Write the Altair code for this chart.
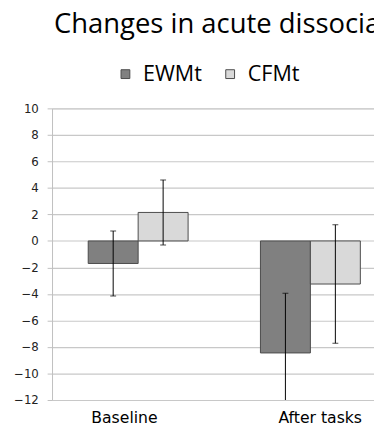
import altair as alt
import pandas as pd

phases = ["Baseline", "After tasks"]
groups = ["EWMt", "CFMt"]
ewmt_mean = [-1.7, -8.45]
ewmt_err = [2.45, 4.5]
cfmt_mean = [2.15, -3.25]
cfmt_err = [2.45, 4.47]
y_ticks = [10, 8, 6, 4, 2, 0, -2, -4, -6, -8, -10, -12]
colors = ["#808080", "#d9d9d9"]
title_text = "Changes in acute dissociation"

rows = []
for i, p in enumerate(phases):
    rows.append({"phase": p, "group": "EWMt", "mean": ewmt_mean[i],
                 "lo": ewmt_mean[i] - ewmt_err[i], "hi": ewmt_mean[i] + ewmt_err[i]})
    rows.append({"phase": p, "group": "CFMt", "mean": cfmt_mean[i],
                 "lo": cfmt_mean[i] - cfmt_err[i], "hi": cfmt_mean[i] + cfmt_err[i]})
df = pd.DataFrame(rows)

xscale = alt.Scale(domain=phases, range=[0, 352], paddingInner=0.42, paddingOuter=0.21)
xoff = alt.XOffset("group:N", scale=alt.Scale(domain=groups, paddingInner=0, paddingOuter=0))
yscale = alt.Scale(domain=[-12, 10], nice=False, zero=False)

x_axis = alt.Axis(
    title=None, domain=False, ticks=False, grid=False,
    labelFont="DejaVu Sans", labelFontSize=16, labelColor="#000000",
    labelPadding=10, labelAngle=0,
    labelOffset={"condition": {"test": "datum.label == 'Baseline'", "value": -14}, "value": 10},
)
y_axis = alt.Axis(
    title=None, values=y_ticks, grid=True, gridColor="#c8c8c8", gridWidth=1.2,
    domainColor="#bfbfbf", tickColor="#bfbfbf", tickSize=5, labelOverlap=False,
    labelFont="DejaVu Sans", labelFontSize=12, labelColor="#222222", labelPadding=9,
)

base = alt.Chart(df)
X = alt.X("phase:N", scale=xscale, axis=x_axis, sort=phases)

bars = base.mark_bar(stroke="#4a4a4a", strokeWidth=1, clip=True).encode(
    x=X,
    xOffset=xoff,
    y=alt.Y("mean:Q", scale=yscale, axis=y_axis),
    y2=alt.datum(0),
    color=alt.Color("group:N", scale=alt.Scale(domain=groups, range=colors),
                    legend=alt.Legend(
                        title=None, orient="none", legendX=64, legendY=-46,
                        direction="horizontal", symbolType="square", symbolSize=81,
                        symbolStrokeColor="#4a4a4a", symbolStrokeWidth=1,
                        labelFont="Open Sans", labelFontSize=22, labelColor="#000000",
                        labelOffset=7, columnPadding=17, padding=0)),
)

rules = base.mark_rule(color="#000000", strokeWidth=1, clip=True).encode(
    x=X,
    xOffset=xoff,
    y=alt.Y("lo:Q", scale=yscale, axis=y_axis),
    y2="hi:Q",
)
cap_lo = base.mark_tick(color="#000000", size=6, thickness=1, clip=True).encode(
    x=X,
    xOffset=xoff,
    y=alt.Y("lo:Q", scale=yscale, axis=y_axis),
)
cap_hi = base.mark_tick(color="#000000", size=6, thickness=1, clip=True).encode(
    x=X,
    xOffset=xoff,
    y=alt.Y("hi:Q", scale=yscale, axis=y_axis),
)

chart = alt.layer(bars, rules, cap_lo, cap_hi).properties(
    width=329, height=298,
    autosize=alt.AutoSizeParams(type="none"),
    padding={"left": 45, "top": 98, "right": 0, "bottom": 23},
    title=alt.TitleParams(title_text, anchor="start", frame="group", font="Open Sans",
                          fontSize=28, fontWeight="normal", color="#000000", dx=2, offset=25),
).configure_view(strokeWidth=0).configure(background="#ffffff")

chart.save("out.html", embed_options={"renderer": "svg", "actions": False})
